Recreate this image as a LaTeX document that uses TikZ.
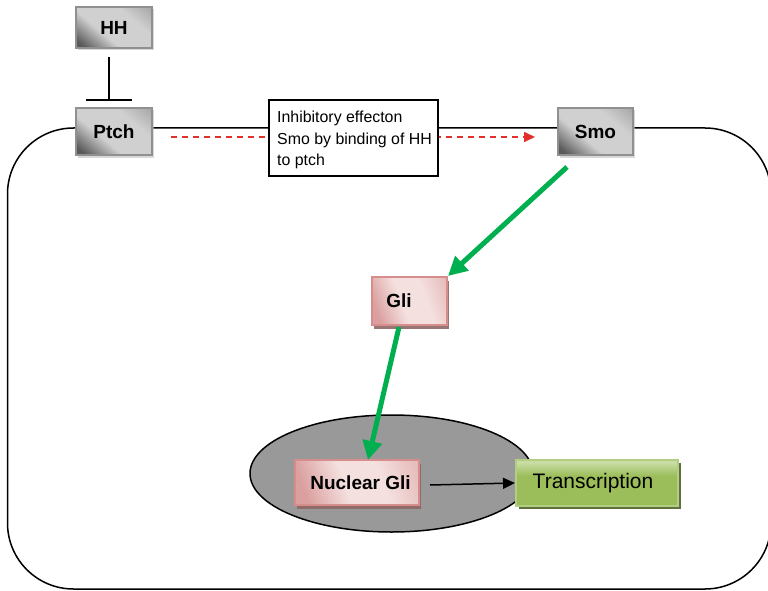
\documentclass[tikz,border=0pt]{standalone}
\usepackage{fontspec}
\setmainfont{Liberation Sans}
\usetikzlibrary{arrows.meta,shadows,shapes.geometric}
\definecolor{grayD}{HTML}{5A5A5A}
\definecolor{grayL}{HTML}{D0D0D0}
\definecolor{grayM}{HTML}{A8A8A8}
\definecolor{grayB}{HTML}{909090}
\definecolor{pinkD}{HTML}{DA9F9E}
\definecolor{pinkL}{HTML}{F4E0DF}
\definecolor{pinkM}{HTML}{E6BCBB}
\definecolor{pinkB}{HTML}{D58E8C}
\definecolor{pinkS}{HTML}{8E6665}
\definecolor{greenT}{HTML}{C8DCA3}
\definecolor{greenB}{HTML}{9CBE5A}
\definecolor{greenE}{HTML}{B2CE82}
\definecolor{greenS}{HTML}{4F6228}
\definecolor{arrowgreen}{HTML}{00B050}
\definecolor{dashred}{HTML}{E2312A}
\definecolor{nucgray}{HTML}{999999}
\pgfdeclarehorizontalshading{grayshade}{100bp}{color(0bp)=(grayD); color(20bp)=(grayD); color(40bp)=(grayL); color(66bp)=(grayL); color(84bp)=(grayM); color(100bp)=(grayM)}
\pgfdeclarehorizontalshading{pinkshade}{100bp}{color(0bp)=(pinkD); color(24bp)=(pinkD); color(44bp)=(pinkL); color(62bp)=(pinkL); color(80bp)=(pinkM); color(100bp)=(pinkM)}
\pgfdeclareverticalshading{greenshade}{100bp}{color(0bp)=(greenB); color(58bp)=(greenB); color(72bp)=(greenT); color(100bp)=(greenT)}
\begin{document}
\begin{tikzpicture}[x=1pt,y=-1pt,
  graybox/.style={draw=grayB, line width=2.4pt, shading=grayshade, shading angle=50,
    drop shadow={shadow xshift=2pt, shadow yshift=-2.5pt, fill=black!25, opacity=0.6},
    inner sep=0pt, font=\fontsize{19}{22}\selectfont\bfseries},
  pinkbox/.style={draw=pinkB, line width=2pt, shading=pinkshade, shading angle=20,
    drop shadow={shadow xshift=2pt, shadow yshift=-3.5pt, fill=pinkS, opacity=0.9},
    inner sep=0pt, font=\fontsize{19}{22}\selectfont\bfseries},
  greenbox/.style={draw=greenE, line width=2pt, shading=greenshade,
    drop shadow={shadow xshift=2.5pt, shadow yshift=-3pt, fill=greenS, opacity=0.9},
    inner sep=0pt, font=\fontsize{21}{24}\selectfont},
  greenarrow/.style={draw=arrowgreen, line width=5pt, -{Triangle[length=19pt,width=19pt]}},
  membrane/.style={draw=black, line width=1.5pt},
  redarrow/.style={draw=dashred, line width=1.6pt, dash pattern=on 6pt off 5pt, -{Triangle[length=11pt,width=10pt]}},
  blackarrow/.style={draw=black, line width=1.5pt, -{Triangle[length=12pt,width=11pt]}},
  inhib/.style={draw=black, line width=1.4pt},
  txtbox/.style={draw=black, line width=1.4pt, fill=white, minimum width=169, minimum height=76, inner sep=0pt},
  txtline/.style={anchor=base west, inner sep=0pt, font=\fontsize{15.9}{21}\selectfont}
]
\useasboundingbox (0,0) rectangle (768,591);
\fill[white] (0,0) rectangle (768,591);

% cell outline
\draw[membrane, rounded corners=66pt] (7.5,128) rectangle (771,589);

% nucleus
\node[ellipse, draw=black, line width=1.5pt, fill=nucgray, minimum width=283, minimum height=117, inner sep=0pt] (nuc) at (391.5,473.5) {};

% red dashed arrow (behind the text box)
\coordinate (rs) at (171,137);
\coordinate (re) at (535,137);
\draw[redarrow] (rs) -- (re);

% boxes
\node[graybox, minimum width=76, minimum height=41] (hh) at (114,27.5) {HH};
\node[graybox, minimum width=76, minimum height=47] (ptch) at (114,131.5) {Ptch};
\node[graybox, minimum width=75, minimum height=47] (smo) at (595.5,131.5) {Smo};
\node[txtbox] (tb) at (353.5,138) {};
\node[txtline] (tb1) at (277,122.5) {Inhibitory effecton};
\node[txtline] (tb2) at (277,144.5) {Smo by binding of HH};
\node[txtline] (tb3) at (277,165.5) {to ptch};
\node[pinkbox, minimum width=75, minimum height=48] (gli) at (409.5,301) {};
\node[font=\fontsize{19}{22}\selectfont\bfseries, inner sep=0pt] (glit) at (399,301) {Gli};
\node[pinkbox, minimum width=124, minimum height=45] (ngli) at (357,482.5) {\hspace*{7pt}Nuclear Gli};
\node[greenbox, minimum width=162, minimum height=46] (tr) at (597,483) {\hspace*{-8pt}Transcription};

% HH --| Ptch
\coordinate (hhs) at (109,57);
\coordinate (tbar) at (109,100);
\draw[inhib] (hhs) -- (tbar);
\draw[inhib] (86,100) -- (132,100);

% green arrows
\coordinate (g1s) at (567,167);
\coordinate (g2s) at (399,327);
\draw[greenarrow] (g1s) -- (gli.north east);
\draw[greenarrow] (g2s) -- (368,460);

% black arrow
\coordinate (bs) at (430,485);
\draw[blackarrow] (bs) -- (tr.west);
\end{tikzpicture}
\end{document}
